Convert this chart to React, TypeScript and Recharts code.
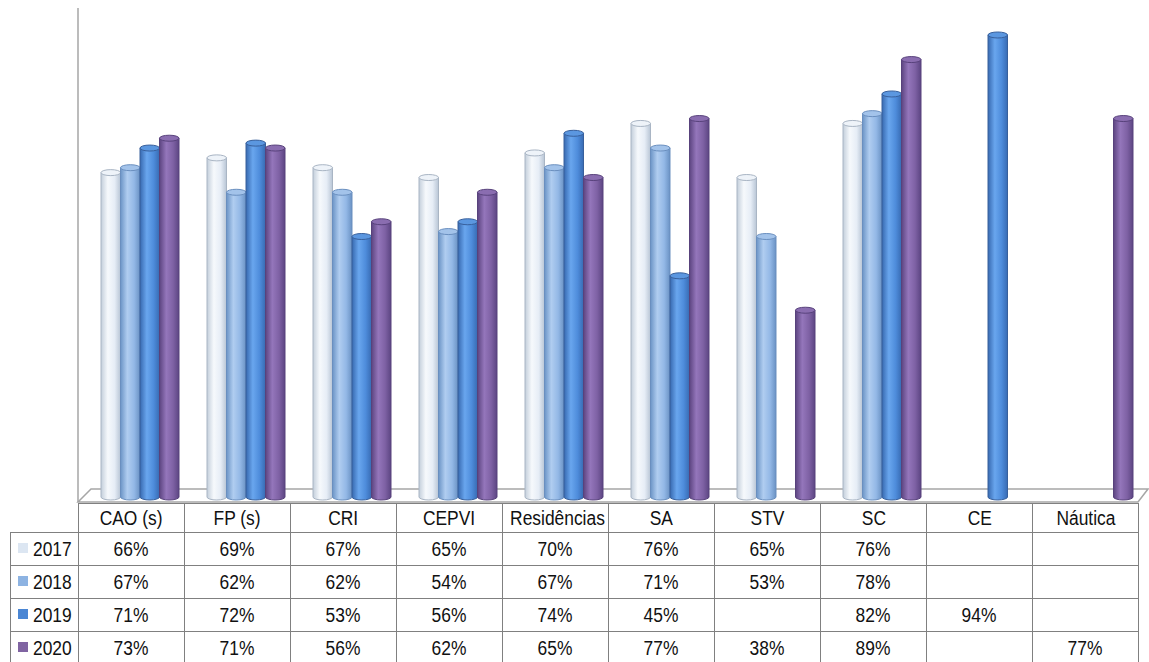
import React from "react";
import { BarChart, Bar, XAxis, YAxis } from "recharts";

const categories = ["CAO (s)", "FP (s)", "CRI", "CEPVI", "Residências", "SA", "STV", "SC", "CE", "Náutica"];
const years = ["2017", "2018", "2019", "2020"];
const v2017 = [66, 69, 67, 65, 70, 76, 65, 76, null, null];
const v2018 = [67, 62, 62, 54, 67, 71, 53, 78, null, null];
const v2019 = [71, 72, 53, 56, 74, 45, null, 82, 94, null];
const v2020 = [73, 71, 56, 62, 65, 77, 38, 89, null, 77];

const series = [v2017, v2018, v2019, v2020];

const styles: Record<string, { swatch: string; stroke: string; stops: string[]; cap: string }> = {
  "2017": { swatch: "#dce6f2", stroke: "#a9b5c4", stops: ["#c3cedb", "#f6f9fc", "#e6edf6", "#b8c5d5"], cap: "#eef3f9" },
  "2018": { swatch: "#8db3e2", stroke: "#6a8fbf", stops: ["#6b94c6", "#b0cdf0", "#93b8e6", "#6a92c4"], cap: "#a3c3ea" },
  "2019": { swatch: "#4a86d4", stroke: "#38609c", stops: ["#3769b0", "#69a6ee", "#4e8cdb", "#386bb3"], cap: "#5b97e0" },
  "2020": { swatch: "#8064a2", stroke: "#58427c", stops: ["#5c4480", "#9476bb", "#7e61a4", "#5c4582"], cap: "#8a6db0" },
};

const data = categories.map((name, i) => {
  const row: Record<string, string | number | null> = { name };
  years.forEach((y, k) => (row[y] = series[k][i]));
  return row;
});

const FONT = "'Liberation Sans', Arial, sans-serif";

function Cylinder(props: any) {
  const { x, y, width, height, year } = props;
  if (height == null || height <= 0 || width <= 0) return null;
  const s = styles[year];
  const rx = width / 2;
  const ry = 3;
  const cx = x + rx;
  return (
    <g>
      <path
        d={`M${x},${y} L${x},${y + height} A${rx},${ry} 0 0 0 ${x + width},${y + height} L${x + width},${y} Z`}
        fill={`url(#cyl${year})`}
        stroke={s.stroke}
        strokeWidth={1}
      />
      <ellipse cx={cx} cy={y} rx={rx} ry={ry} fill={s.cap} stroke={s.stroke} strokeWidth={1} />
    </g>
  );
}

// narrow text, like Arial Narrow
function Narrow({ children, origin = "center" }: { children: React.ReactNode; origin?: string }) {
  return (
    <span style={{ display: "inline-block", transform: "scaleX(0.87)", transformOrigin: origin, whiteSpace: "nowrap" }}>
      {children}
    </span>
  );
}

const cellBorder = "1px solid #808080";
const cell: React.CSSProperties = { border: cellBorder, textAlign: "center", padding: 0, whiteSpace: "nowrap", overflow: "visible" };

export default function App() {
  return (
    <div style={{ position: "absolute", left: 0, top: 0, width: 1149, height: 662, background: "#fff", overflow: "hidden" }}>
      {/* back wall axis + floor */}
      <svg width={1149} height={510} style={{ position: "absolute", left: 0, top: 0 }}>
        <line x1={78} y1={8} x2={78} y2={502} stroke="#a6a6a6" strokeWidth={1.5} />
        <polygon points="78,502 91,489 1148,489 1138,502" fill="#fff" stroke="#a6a6a6" strokeWidth={1.5} />
      </svg>

      <div style={{ position: "absolute", left: 0, top: 0 }}>
        <BarChart
          width={1149}
          height={505}
          data={data}
          margin={{ top: 5.5, right: 2, left: 87, bottom: 8 }}
          barGap={0}
          barSize={19.5}
        >
          <defs>
            {years.map((y) => (
              <linearGradient key={y} id={`cyl${y}`} x1="0" y1="0" x2="1" y2="0">
                <stop offset="0%" stopColor={styles[y].stops[0]} />
                <stop offset="35%" stopColor={styles[y].stops[1]} />
                <stop offset="70%" stopColor={styles[y].stops[2]} />
                <stop offset="100%" stopColor={styles[y].stops[3]} />
              </linearGradient>
            ))}
          </defs>
          <XAxis dataKey="name" hide />
          <YAxis hide domain={[0, 100]} />
          {years.map((y) => (
            <Bar
              key={y}
              dataKey={y}
              isAnimationActive={false}
              shape={(p: any) => <Cylinder {...p} year={y} />}
            />
          ))}
        </BarChart>
      </div>

      <table
        style={{
          position: "absolute",
          left: 10,
          top: 503,
          width: 1128,
          borderCollapse: "collapse",
          tableLayout: "fixed",
          fontFamily: FONT,
          fontSize: 20,
          color: "#111",
        }}
      >
        <colgroup>
          <col style={{ width: 68 }} />
          {categories.map((c) => (
            <col key={c} style={{ width: 106 }} />
          ))}
        </colgroup>
        <tbody>
          <tr style={{ height: 29 }}>
            <td style={{ border: "none", padding: 0 }} />
            {categories.map((c) => (
              <td key={c} style={cell}>
                <Narrow>{c}</Narrow>
              </td>
            ))}
          </tr>
          {years.map((y, k) => (
            <tr key={y} style={{ height: 33 }}>
              <td style={{ border: cellBorder, padding: "0 0 0 7px", whiteSpace: "nowrap" }}>
                <span
                  style={{
                    display: "inline-block",
                    width: 10,
                    height: 10,
                    background: styles[y].swatch,
                    marginRight: 5,
                    verticalAlign: "middle",
                    position: "relative",
                    top: -2,
                  }}
                />
                <Narrow origin="left">{y}</Narrow>
              </td>
              {series[k].map((v, i) => (
                <td key={i} style={cell}>
                  <Narrow>{v == null ? "" : `${v}%`}</Narrow>
                </td>
              ))}
            </tr>
          ))}
        </tbody>
      </table>
    </div>
  );
}
